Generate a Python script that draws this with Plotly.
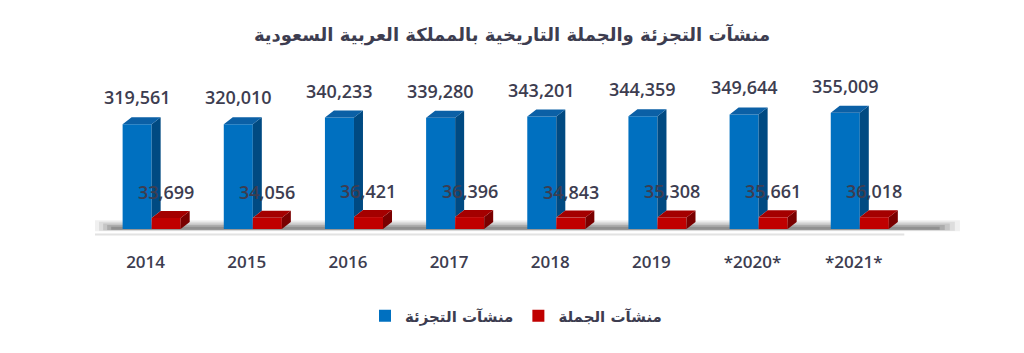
import plotly.graph_objects as go

# ---------------- data ----------------
years = ["2014", "2015", "2016", "2017", "2018", "2019", "*2020*", "*2021*"]
retail = [319561, 320010, 340233, 339280, 343201, 344359, 349644, 355009]
wholesale = [33699, 34056, 36421, 36396, 34843, 35308, 35661, 36018]
retail_name = "منشآت التجزئة"
wholesale_name = "منشآت الجملة"
title_text = "منشآت التجزئة والجملة التاريخية بالمملكة العربية السعودية"

# ---------------- styling / geometry ----------------
BAR_W = 0.287
BLUE_OFF = -0.227
RED_OFF = BLUE_OFF + BAR_W
DX = 0.089        # 3D depth in x units
DY = 21400        # 3D depth in y units
BLUE = "#0070C0"
BLUE_TOP = "#0b60a6"
BLUE_SIDE = "#004a82"
RED = "#C00000"
RED_TOP = "#a40000"
RED_SIDE = "#7a0000"
TXT = "#3d3d50"
NUM_FONT = "Open Sans"
AR_FONT = "DejaVu Sans"

idx = list(range(len(years)))

fig = go.Figure()

# front faces (real bars)
fig.add_trace(go.Bar(x=idx, y=retail, width=BAR_W, offset=BLUE_OFF,
                     marker=dict(color=BLUE, line=dict(width=0)),
                     name=retail_name))
fig.add_trace(go.Bar(x=idx, y=wholesale, width=BAR_W, offset=RED_OFF,
                     marker=dict(color=RED, line=dict(width=0)),
                     name=wholesale_name))


def poly_trace(xs, ys, color):
    return go.Scatter(x=xs, y=ys, mode="lines", fill="toself",
                      fillcolor=color, line=dict(width=0, color=color),
                      hoverinfo="skip", showlegend=False)


# blue side + top faces (side trimmed above the red bar, which sits in front)
bx_s, by_s, bx_t, by_t = [], [], [], []
rx_s, ry_s, rx_t, ry_t = [], [], [], []
for i, (v, w) in enumerate(zip(retail, wholesale)):
    l = i + BLUE_OFF
    r = l + BAR_W
    bx_s += [r, r + DX, r + DX, r, r, None]
    by_s += [w, w + DY, v + DY, v, w, None]
    bx_t += [l, l + DX, r + DX, r, l, None]
    by_t += [v, v + DY, v + DY, v, v, None]
    l2 = i + RED_OFF
    r2 = l2 + BAR_W
    rx_s += [r2, r2 + DX, r2 + DX, r2, r2, None]
    ry_s += [0, DY, w + DY, w, 0, None]
    rx_t += [l2, l2 + DX, r2 + DX, r2, l2, None]
    ry_t += [w, w + DY, w + DY, w, w, None]

fig.add_trace(poly_trace(bx_s, by_s, BLUE_SIDE))
fig.add_trace(poly_trace(bx_t, by_t, BLUE_TOP))
fig.add_trace(poly_trace(rx_s, ry_s, RED_SIDE))
fig.add_trace(poly_trace(rx_t, ry_t, RED_TOP))

# value labels
for i, (v, w) in enumerate(zip(retail, wholesale)):
    fig.add_annotation(x=i + BLUE_OFF + BAR_W / 2, y=v + DY, text=f"{v:,}",
                       showarrow=False, yanchor="bottom", yshift=6,
                       font=dict(family=NUM_FONT, size=18, color=TXT, weight=600))
    fig.add_annotation(x=i + RED_OFF + BAR_W / 2, y=w + DY, text=f"{w:,}",
                       showarrow=False, yanchor="bottom", yshift=5,
                       font=dict(family=NUM_FONT, size=18, color=TXT, weight=600))

# floor shadow (decoration, below traces)
shadow_layers = [
    (-0.50, 8.05, -7000, 27000, 0.06),
    (-0.46, 8.00, -5500, 22000, 0.08),
    (-0.42, 7.95, -4000, 17000, 0.10),
    (-0.38, 7.90, -3000, 12000, 0.13),
    (-0.34, 7.85, -2000, 7000, 0.16),
]
for x0, x1, y0, y1, op in shadow_layers:
    fig.add_shape(type="rect", xref="x", yref="y", x0=x0, x1=x1, y0=y0, y1=y1,
                  fillcolor=f"rgba(0,0,0,{op})", line=dict(width=0), layer="below")
# floor front line
fig.add_shape(type="line", xref="x", yref="y", x0=-0.52, x1=7.5, y0=-16500, y1=-16500,
              line=dict(color="#e2e2e2", width=2), layer="below")

fig.update_layout(
    width=1024, height=353,
    margin=dict(l=95, r=59, t=60, b=113),
    paper_bgcolor="white", plot_bgcolor="white",
    barmode="overlay",
    title=dict(text=title_text, x=0.5, xanchor="center", y=1 - 35 / 353,
               yanchor="middle", yref="container",
               font=dict(family=AR_FONT, size=18, color=TXT, weight="bold")),
    xaxis=dict(range=[-0.5, 8.1], tickmode="array", tickvals=idx, ticktext=years,
               showgrid=False, zeroline=False, showline=False, ticks="",
               ticklabelstandoff=10,
               tickfont=dict(family=NUM_FONT, size=17, color=TXT, weight=600)),
    yaxis=dict(range=[-33600, 515900], visible=False, showgrid=False, zeroline=False),
    legend=dict(orientation="h", xref="container", yref="container",
                x=516 / 1024, xanchor="center", y=1 - 316 / 353, yanchor="middle",
                font=dict(family=AR_FONT, size=15, color=TXT, weight="bold"),
                itemclick=False),
    showlegend=True,
)

fig.write_html("out.html")
